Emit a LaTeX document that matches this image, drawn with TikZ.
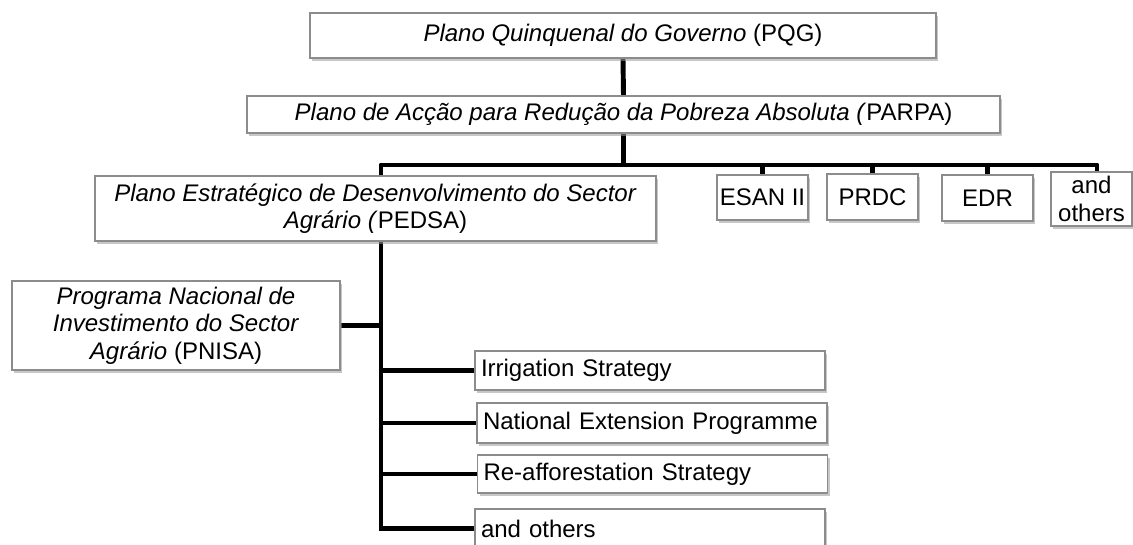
\documentclass[tikz,border=0pt]{standalone}
\usepackage{fontspec}
\setmainfont{Liberation Sans}
\usetikzlibrary{shadows,backgrounds}
\begin{document}
\begin{tikzpicture}[x=0.75pt,y=-0.75pt,
  every node/.style={font=\fontsize{18}{20.5}\selectfont},
  box/.style={draw=black!45, line width=0.9pt, fill=white, inner sep=0pt,
    drop shadow={shadow xshift=1.5pt, shadow yshift=-2.5pt, fill=black!40, opacity=0.55}},
  listbox/.style={box, minimum height=39*0.75pt, text width=338*0.75pt, align=left, inner xsep=6*0.75pt},
  conn/.style={line width=3.7pt, black}]
\clip (0,0) rectangle (1133,545);
\useasboundingbox (0,0) rectangle (1133,545);

\node[box, minimum width=626*0.75pt, minimum height=45*0.75pt] (pqg) at (623,35.5)
  {\textit{Plano Quinquenal do Governo} (PQG)};
\node[box, minimum width=753*0.75pt, minimum height=37*0.75pt] (parpa) at (623.5,114.5)
  {\textit{Plano de Acção para Redução da Pobreza Absoluta (}PARPA)};
\node[box, align=center, minimum width=561*0.75pt, minimum height=65*0.75pt] (pedsa) at (375.5,208.5)
  {\textit{Plano Estratégico de Desenvolvimento do Sector}\\\textit{Agrário (}PEDSA)};
\node[box, minimum width=91*0.75pt, minimum height=45*0.75pt] (esan) at (762.5,197.5) {ESAN II};
\node[box, minimum width=91*0.75pt, minimum height=46*0.75pt] (prdc) at (872.5,197) {PRDC};
\node[box, minimum width=91*0.75pt, minimum height=46*0.75pt] (edr) at (987.5,198) {EDR};
\node[box, align=center, minimum width=81*0.75pt, minimum height=54*0.75pt] (othA) at (1091.5,199) {and\\others};
\node[box, align=center, minimum width=328*0.75pt, minimum height=89*0.75pt] (pnisa) at (176,325.5)
  {\textit{Programa Nacional de}\\\textit{Investimento do Sector}\\\textit{Agrário} (PNISA)};
\node[listbox] (irr) at (650,370.5) {Irrigation Strategy};
\node[listbox, minimum height=40*0.75pt] (nat) at (652,423) {National Extension Programme};
\node[listbox, minimum height=38*0.75pt] (ref) at (652.5,474) {Re-afforestation Strategy};
\node[listbox] (othB) at (650,528.5) {and others};

\coordinate (busL) at (381,165);
\coordinate (busR) at (1097,165);
\coordinate (trunkEnd) at (381,528.5);

\begin{scope}[on background layer]
\fill[white] (0,0) rectangle (1133,545);
\draw[conn] (pqg.south) -- (parpa.north);
\draw[conn] (parpa.south) -- (parpa.south |- busL);
\draw[conn, line join=round] (busL |- pedsa.north) -- (busL) -- (busR) -- (busR |- othA.north);
\draw[conn] (esan.north) -- (esan.north |- busL);
\draw[conn] (prdc.north) -- (prdc.north |- busL);
\draw[conn] (edr.north) -- (edr.north |- busL);
\draw[conn] (busL) -- (trunkEnd) -- (othB.west);
\draw[conn] (pnisa.east) -- (pnisa.east -| busL);
\draw[conn] (irr.west -| busL) -- (irr.west);
\draw[conn] (nat.west -| busL) -- (nat.west);
\draw[conn] (ref.west -| busL) -- (ref.west);
\end{scope}
\end{tikzpicture}
\end{document}
